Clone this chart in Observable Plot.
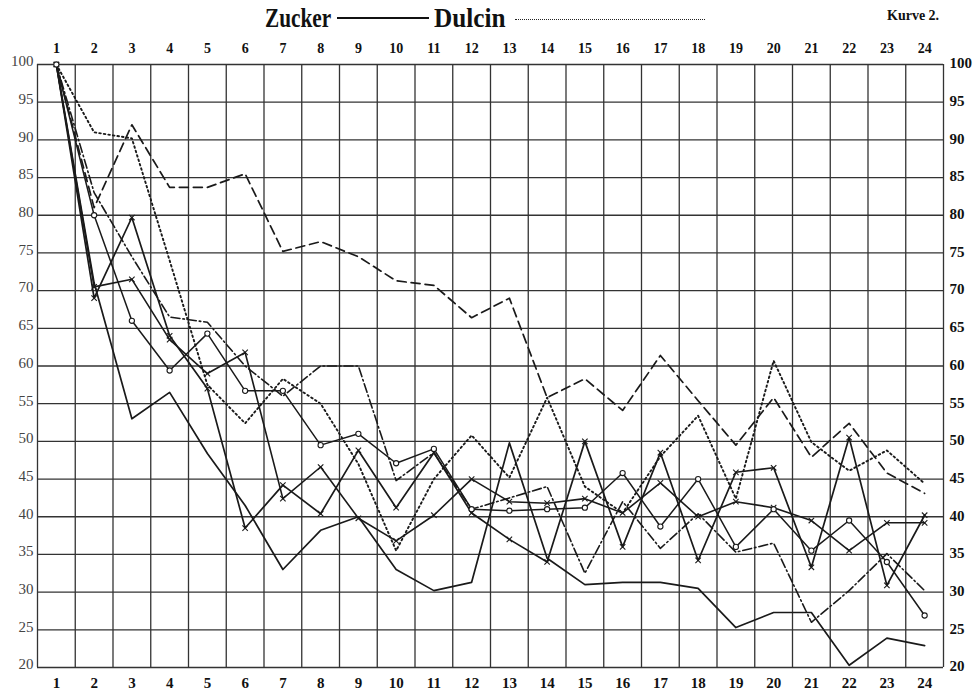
<!DOCTYPE html>
<html>
<head>
<meta charset="utf-8">
<script src="https://cdn.jsdelivr.net/npm/d3@7"></script>
<script src="https://cdn.jsdelivr.net/npm/@observablehq/plot@0.6"></script>
<style>
  body { margin: 0; background: #fff; }
  #wrap { position: relative; width: 980px; height: 698px; font-family: "Liberation Serif", "DejaVu Serif", serif; }
  #wrap svg { position: absolute; left: 0; top: 0; }
  .t { position: absolute; font-weight: bold; color: #111; white-space: nowrap; line-height: 1; }
</style>
</head>
<body>
<div id="wrap">
  <div class="t" style="left:265px; top:4px; font-size:28px; transform:scaleX(0.76); transform-origin:left;">Zucker</div>
  <div style="position:absolute; left:337px; top:17px; width:92px; border-top:2.5px solid #111;"></div>
  <div class="t" style="left:434px; top:4px; font-size:28px; transform:scaleX(0.9); transform-origin:left;">Dulcin</div>
  <div style="position:absolute; left:515px; top:19px; width:190px; border-top:1.5px dotted #222;"></div>
  <div class="t" style="left:887px; top:9px; font-size:14px;">Kurve 2.</div>
</div>
<script>
// Days (x positions / tick labels)
const days = [1,2,3,4,5,6,7,8,9,10,11,12,13,14,15,16,17,18,19,20,21,22,23,24];
const yTicks = [20,25,30,35,40,45,50,55,60,65,70,75,80,85,90,95,100];

// Series values (percent), one per day
const dashedA  = [100,81,92,83.7,83.7,85.5,75.2,76.5,74.5,71.3,70.7,66.4,69,55.8,58.3,54.1,61.4,55.4,49.5,55.8,47.9,52.4,45.8,43.1];
const dotted   = [100,91,90.2,74,57.5,52.4,58.3,55,47,35.5,45,50.8,45.2,55.8,44,40.5,48,53.4,42.4,60.7,49.9,46.1,48.8,44.4];
const dashDot  = [100,83,74.5,66.5,65.8,60,56,60,60,44.8,48.5,41,42.5,44,32.5,42,35.8,40.4,35.3,36.5,26,30.2,35.1,30.2];
const solidLow = [100,71,53,56.5,48.4,41.5,33,38.2,40,33,30.2,31.3,49.8,34.5,31,31.3,31.3,30.5,25.3,27.3,27.3,20.3,23.9,22.9];
const starA    = [100,69,79.7,64,57,38.5,44.2,40.4,48.8,41.2,48.5,40.5,37,34,50,36,48.5,34.2,45.9,46.5,33.3,50.5,30.9,40.2];
const starB    = [100,70.5,71.5,63.5,59,61.8,42.4,46.6,39.8,36.8,40.2,45,42,41.8,42.4,40.5,44.5,40,42,41.2,39.5,35.5,39.2,39.2];
const circles  = [100,80,66,59.4,64.3,56.7,56.7,49.5,51,47.1,49,41,40.8,41,41.2,45.8,38.7,45,36,41,35.5,39.5,34,26.9];

const styles = [
  {name: "dashedA", values: dashedA, dash: "9,5", w: 1.7},
  {name: "dotted", values: dotted, dash: "1.6,3", w: 1.9},
  {name: "dashDot", values: dashDot, dash: "9,3,1.5,3", w: 1.6},
  {name: "solidLow", values: solidLow, dash: null, w: 1.7},
  {name: "starA", values: starA, dash: null, w: 1.7, sym: "times"},
  {name: "starB", values: starB, dash: null, w: 1.6, sym: "times"},
  {name: "circles", values: circles, dash: null, w: 1.5, sym: "circle"}
];

const xGrid = d3.range(0, days.length + 1).map(i => i + 0.5);
const ink = "#1a1a1a";

const marks = [
  Plot.ruleX(xGrid, {stroke: "#333", strokeWidth: 1.3}),
  Plot.ruleY(yTicks, {stroke: "#333", strokeWidth: 1.3}),
];
for (const s of styles) {
  const data = days.map((d, i) => ({day: d, v: s.values[i]}));
  marks.push(Plot.line(data, {x: "day", y: "v", stroke: ink, strokeWidth: s.w, strokeDasharray: s.dash || undefined}));
  if (s.sym) {
    marks.push(Plot.dot(data, {x: "day", y: "v", symbol: s.sym, r: 2.6, stroke: ink, strokeWidth: 1.1, fill: s.sym === "circle" ? "white" : "none"}));
  }
}
// tick labels
marks.push(
  Plot.text(days, {x: d => d, frameAnchor: "top", dy: -21, text: d => String(d), fontWeight: "bold", fontSize: 14, fill: "#111"}),
  Plot.text(days, {x: d => d, frameAnchor: "bottom", dy: 20, text: d => String(d), fontWeight: "bold", fontSize: 15, fill: "#111"}),
  Plot.text(yTicks, {y: d => d, frameAnchor: "left", dx: -4, dy: -3, textAnchor: "end", text: d => String(d), fontSize: 15, fill: "#444"}),
  Plot.text(yTicks, {y: d => d, frameAnchor: "right", dx: 6, dy: -1, textAnchor: "start", text: d => String(d), fontWeight: "bold", fontSize: 15, fill: "#111"})
);

const chart = Plot.plot({
  width: 980,
  height: 698,
  marginTop: 64,
  marginBottom: 31,
  marginLeft: 37,
  marginRight: 37,
  x: {domain: [0.5, 24.5], axis: null},
  y: {domain: [20, 100], axis: null},
  style: {fontFamily: "'Liberation Serif', 'DejaVu Serif', serif", background: "white"},
  marks
});
document.getElementById("wrap").prepend(chart);
</script>
</body>
</html>
